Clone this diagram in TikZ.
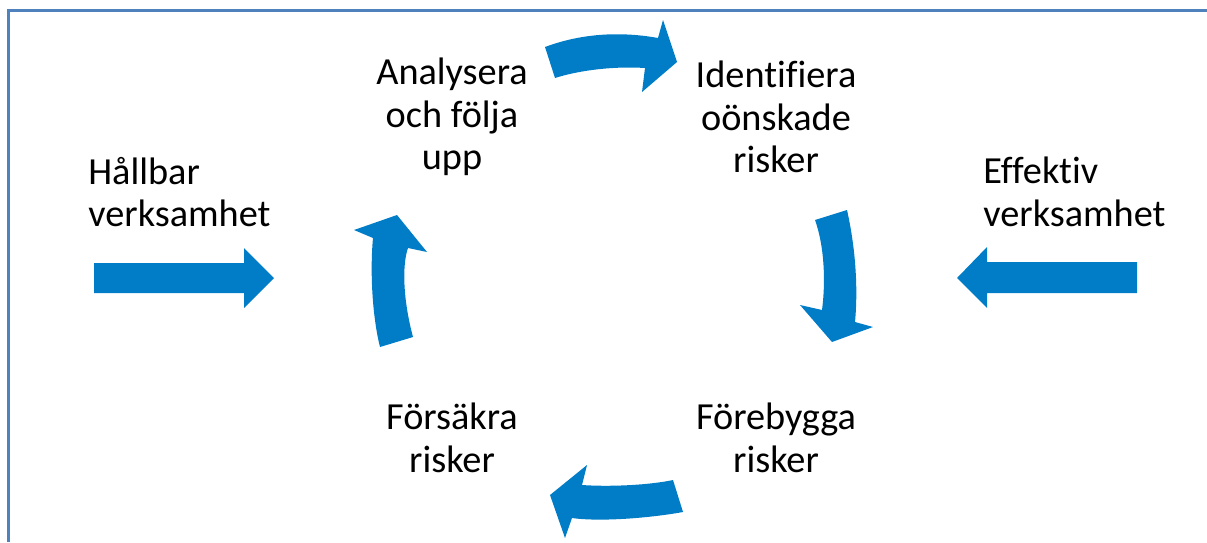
\documentclass[tikz,border=0pt]{standalone}
\usepackage{fontspec}
\setmainfont[Ligatures=NoCommon]{Carlito}
\definecolor{arrowblue}{RGB}{0,125,198}
\definecolor{frameblue}{RGB}{79,129,189}
\begin{document}
\begin{tikzpicture}[x=0.02cm,y=-0.02cm,
  lbl/.style={inner sep=0pt,font=\fontsize{21.8}{24.2}\selectfont},
  clbl/.style={lbl,align=center},
  llbl/.style={lbl,align=left,anchor=west},
  blockarrow/.style={fill=arrowblue,draw=none}]
\useasboundingbox (0,0) rectangle (1207,542);
% frame (left and top edges)
\draw[frameblue,line width=1.8pt] (8.5,542) -- (8.5,10.5) -- (1207,10.5);
% labels
\node[clbl] (analys) at (452,117) {Analysera\\och följa\\upp};
\node[clbl] (ident) at (776,117) {Identifiera\\oönskade\\risker};
\node[clbl] (fors) at (452,438) {Försäkra\\risker};
\node[clbl] (foreb) at (776,438) {Förebygga\\risker};
\node[llbl] (hall) at (88,192) {Hållbar\\verksamhet};
\node[llbl] (eff) at (983,192) {Effektiv\\verksamhet};
% straight arrows
\fill[blockarrow] (94,263) -- (244,263) -- (244,248) -- (274,278) -- (244,308) -- (244,293) -- (94,293) -- cycle;
\fill[blockarrow] (1137,262) -- (987,262) -- (987,247) -- (957,278) -- (987,308) -- (987,293) -- (1137,293) -- cycle;
% curved arrows
% top (pointing right)
\fill[blockarrow] (545,47) .. controls (585,32) and (625,32) .. (658,38)
  -- (663,20) -- (677,62) -- (642,92) -- (645,68)
  .. controls (615,66) and (580,70) .. (555,78) -- cycle;
% right (pointing down)
\fill[blockarrow] (815,220) -- (847,210) .. controls (856,250) and (858,290) .. (855,322)
  -- (873,327) -- (832,342) -- (800,305) -- (822,310)
  .. controls (826,280) and (824,245) .. (815,220) -- cycle;
% bottom (pointing left)
\fill[blockarrow] (673,480) -- (683,512) .. controls (650,518) and (600,522) .. (572,518)
  -- (565,538) -- (550,495) -- (587,465) -- (582,485)
  .. controls (610,487) and (650,485) .. (673,480) -- cycle;
% left (pointing up)
\fill[blockarrow] (380,347) -- (413,337) .. controls (403,300) and (402,265) .. (408,248)
  -- (427,252) -- (397,215) -- (354,230) -- (373,238)
  .. controls (370,270) and (372,315) .. (380,347) -- cycle;
\end{tikzpicture}
\end{document}
